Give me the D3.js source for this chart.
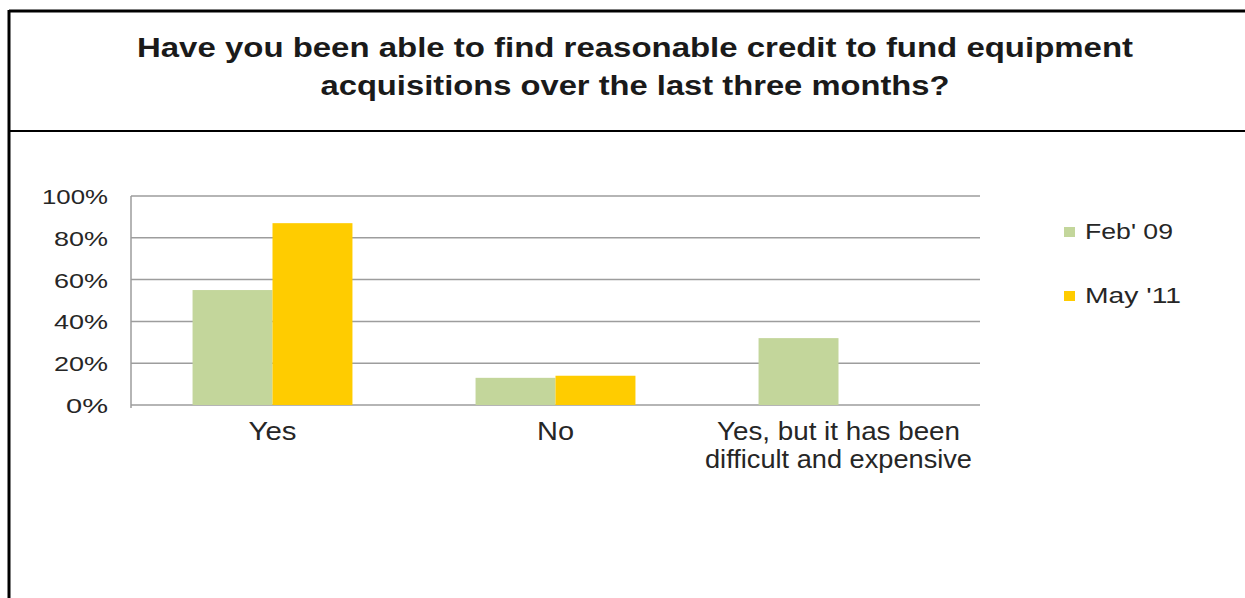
<!DOCTYPE html>
<html>
<head>
<meta charset="utf-8">
<script src="https://cdn.jsdelivr.net/npm/d3@7"></script>
<style>
  body { margin: 0; background: #fff; }
  text { font-family: "Liberation Sans", Arial, sans-serif; }
</style>
</head>
<body>
<svg id="chart"></svg>
<script>
// data
const categories = ["Yes", "No", "Yes, but it has been\ndifficult and expensive"];
const seriesNames = ["Feb' 09", "May '11"];
const feb09 = [55, 13, 32];
const may11 = [87, 14, null];
const yTicks = [0, 20, 40, 60, 80, 100];
const titleLines = ["Have you been able to find reasonable credit to fund equipment",
                    "acquisitions over the last three months?"];
const colors = ["#c3d69b", "#ffcc00"];

const WIDTH = 1245, HEIGHT = 598;
const PLOT = { left: 131, right: 980, top: 196, bottom: 405 };

const svg = d3.select('#chart').attr('width', WIDTH).attr('height', HEIGHT);
svg.append('rect').attr('width', WIDTH).attr('height', HEIGHT).attr('fill', '#fff');

// frame around title
svg.append('line').attr('x1', 9).attr('x2', WIDTH).attr('y1', 11).attr('y2', 11)
  .attr('stroke', '#000').attr('stroke-width', 3);
svg.append('line').attr('x1', 9).attr('x2', 9).attr('y1', 10).attr('y2', HEIGHT)
  .attr('stroke', '#000').attr('stroke-width', 3);
svg.append('line').attr('x1', 9).attr('x2', WIDTH).attr('y1', 131).attr('y2', 131)
  .attr('stroke', '#000').attr('stroke-width', 2);

// title
const titleY = [57, 95], titleW = [996, 629];
svg.selectAll('.title').data(titleLines).join('text')
  .attr('class', 'title')
  .attr('x', 635)
  .attr('y', (d, i) => titleY[i])
  .attr('text-anchor', 'middle')
  .attr('font-size', 27).attr('font-weight', 'bold').attr('fill', '#1a1a1a')
  .attr('textLength', (d, i) => titleW[i]).attr('lengthAdjust', 'spacingAndGlyphs')
  .text(d => d);

const yScale = d3.scaleLinear().domain([0, 100]).range([PLOT.bottom, PLOT.top]);
const x0 = d3.scaleBand().domain(categories).range([PLOT.left, PLOT.right])
  .paddingInner(0.435).paddingOuter(0.2175);
const x1 = d3.scaleBand().domain(seriesNames).range([0, x0.bandwidth()]);

// gridlines
svg.append('g').selectAll('line').data(yTicks).join('line')
  .attr('x1', PLOT.left).attr('x2', PLOT.right)
  .attr('y1', d => yScale(d)).attr('y2', d => yScale(d))
  .attr('stroke', '#9d9d9d').attr('stroke-width', 1.5);

// y axis
const yAxis = svg.append('g')
  .attr('transform', `translate(${PLOT.left},0)`)
  .call(d3.axisLeft(yScale).tickValues(yTicks).tickSize(0).tickPadding(23)
    .tickFormat(d => d + '%'));
yAxis.select('.domain').attr('stroke', '#9d9d9d').attr('stroke-width', 1.5)
  .attr('d', `M0,${PLOT.top}V${PLOT.bottom + 3}`);
yAxis.selectAll('text')
  .attr('font-size', 21).attr('fill', '#262626')
  .attr('font-family', '"Liberation Sans", Arial, sans-serif')
  .attr('textLength', d => d === 100 ? 66 : (d === 0 ? 42 : 54))
  .attr('lengthAdjust', 'spacingAndGlyphs')
  .attr('dy', '0.36em');

// bars
const rows = categories.map((c, i) => ({ cat: c, vals: [feb09[i], may11[i]] }));
svg.append('g').selectAll('g').data(rows).join('g')
  .attr('transform', d => `translate(${x0(d.cat)},0)`)
  .selectAll('rect')
  .data(d => d.vals.map((v, j) => ({ s: seriesNames[j], v: v, j: j })).filter(e => e.v != null))
  .join('rect')
  .attr('x', e => x1(e.s))
  .attr('y', e => yScale(e.v))
  .attr('width', x1.bandwidth())
  .attr('height', e => yScale(0) - yScale(e.v))
  .attr('fill', e => colors[e.j]);

// category labels
const catW = [[48], [37], [243, 267]];
categories.forEach((c, i) => {
  const lines = c.split('\n');
  const t = svg.append('text')
    .attr('x', x0(c) + x0.bandwidth() / 2)
    .attr('y', 440)
    .attr('text-anchor', 'middle')
    .attr('font-size', 25).attr('fill', '#262626');
  lines.forEach((l, k) => {
    t.append('tspan')
      .attr('x', x0(c) + x0.bandwidth() / 2)
      .attr('y', 440 + k * 28)
      .attr('textLength', catW[i][k]).attr('lengthAdjust', 'spacingAndGlyphs')
      .text(l);
  });
});

// legend
const legY = [232, 296], legW = [88, 96];
const leg = svg.append('g').selectAll('g').data(seriesNames).join('g')
  .attr('transform', (d, i) => `translate(1064,${legY[i]})`);
leg.append('rect').attr('x', 0).attr('y', -5).attr('width', 11).attr('height', 10)
  .attr('fill', (d, i) => colors[i]);
leg.append('text').attr('x', 21).attr('y', 7)
  .attr('font-size', 22).attr('fill', '#262626')
  .attr('textLength', (d, i) => legW[i]).attr('lengthAdjust', 'spacingAndGlyphs')
  .text(d => d);
</script>
</body>
</html>
